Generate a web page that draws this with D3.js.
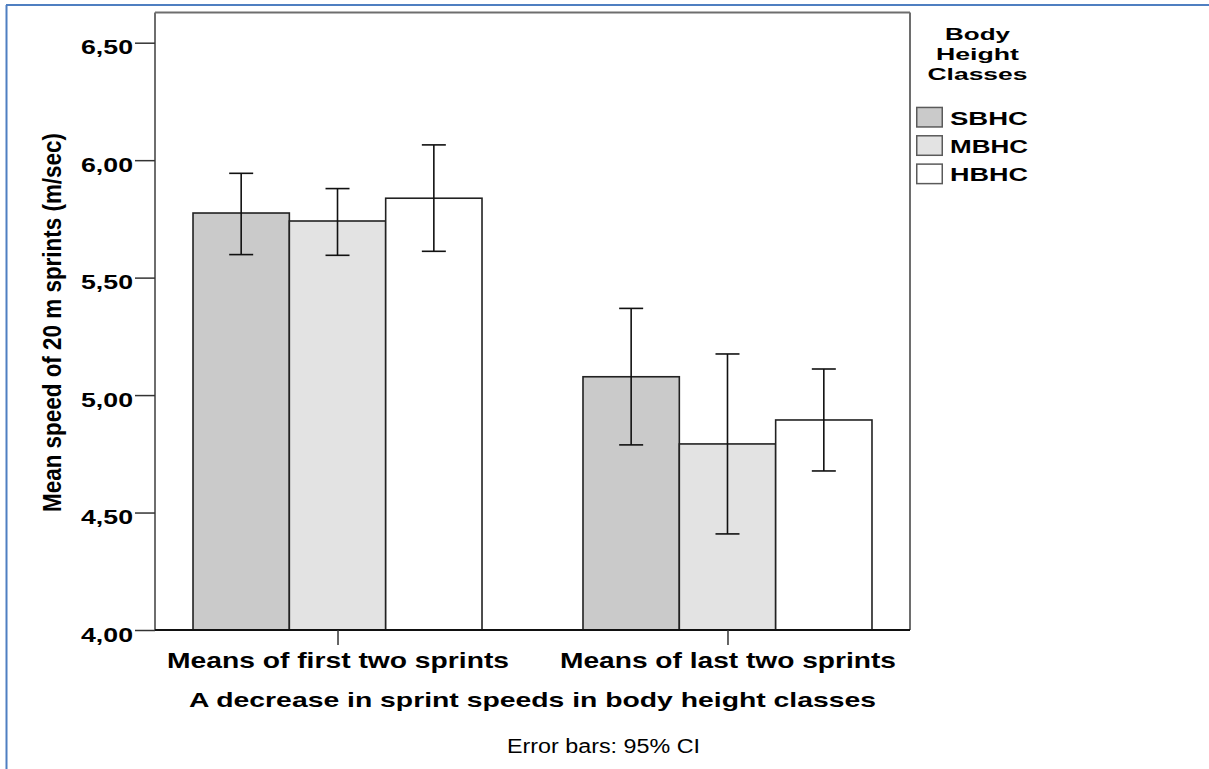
<!DOCTYPE html>
<html>
<head>
<meta charset="utf-8">
<script src="https://cdn.jsdelivr.net/npm/d3@7"></script>
<style>
  body { margin: 0; background: #fff; }
  text { font-family: "Liberation Sans", Arial, sans-serif; fill: #000; }
</style>
</head>
<body>
<div id="chart"></div>
<script>
const groups = ["Means of first two sprints", "Means of last two sprints"];
const classes = ["SBHC", "MBHC", "HBHC"];
const means = [[5.775, 5.741, 5.838], [5.078, 4.792, 4.894]];
const lower = [[5.598, 5.595, 5.612], [4.788, 4.409, 4.677]];
const upper = [[5.944, 5.879, 6.065], [5.369, 5.175, 5.111]];
const yTicks = [4.0, 4.5, 5.0, 5.5, 6.0, 6.5];
const fills = ["#cacaca", "#e3e3e3", "#ffffff"];

const width = 1209, height = 769;
const plot = {left: 155, right: 910, top: 12.5, bottom: 630};

const svg = d3.select("#chart").append("svg")
    .attr("width", width)
    .attr("height", height);

// outer blue border (top and left only)
svg.append("line").attr("x1", 6).attr("x2", width).attr("y1", 5).attr("y2", 5)
    .attr("stroke", "#4f7fc1").attr("stroke-width", 2);
svg.append("line").attr("x1", 6.5).attr("x2", 6.5).attr("y1", 5).attr("y2", height)
    .attr("stroke", "#4f7fc1").attr("stroke-width", 2);

const y = d3.scaleLinear().domain([4, 6.5]).range([plot.bottom, 42.7]);
const x0 = d3.scalePoint().domain(groups).range([plot.left, plot.right]).padding(0.468);
const x1 = d3.scaleBand().domain(classes).range([-144.5, 144.5]);

// frame
svg.append("line").attr("x1", plot.left).attr("x2", plot.right).attr("y1", plot.top).attr("y2", plot.top)
    .attr("stroke", "#6e6e6e").attr("stroke-width", 2);
svg.append("line").attr("x1", plot.right).attr("x2", plot.right).attr("y1", plot.top).attr("y2", plot.bottom)
    .attr("stroke", "#6e6e6e").attr("stroke-width", 2);
svg.append("line").attr("x1", plot.left).attr("x2", plot.left).attr("y1", plot.top).attr("y2", plot.bottom)
    .attr("stroke", "#6e6e6e").attr("stroke-width", 2);

// bars
const rows = [];
groups.forEach((g, i) => classes.forEach((c, j) => {
    rows.push({g: g, c: c, j: j, mean: means[i][j], lo: lower[i][j], hi: upper[i][j]});
}));

const bar = svg.append("g").selectAll("g")
    .data(rows)
    .enter().append("g")
    .attr("transform", d => "translate(" + (x0(d.g) + x1(d.c)) + ",0)");

bar.append("rect")
    .attr("y", d => y(d.mean))
    .attr("width", x1.bandwidth())
    .attr("height", d => y(4) - y(d.mean))
    .attr("fill", d => fills[d.j])
    .attr("stroke", "#222")
    .attr("stroke-width", 1.6);

// error bars
const cx = x1.bandwidth() / 2;
bar.append("line")
    .attr("x1", cx).attr("x2", cx)
    .attr("y1", d => y(d.lo)).attr("y2", d => y(d.hi))
    .attr("stroke", "#111").attr("stroke-width", 1.6);
bar.append("line")
    .attr("x1", cx - 12).attr("x2", cx + 12)
    .attr("y1", d => y(d.hi)).attr("y2", d => y(d.hi))
    .attr("stroke", "#111").attr("stroke-width", 1.6);
bar.append("line")
    .attr("x1", cx - 12).attr("x2", cx + 12)
    .attr("y1", d => y(d.lo)).attr("y2", d => y(d.lo))
    .attr("stroke", "#111").attr("stroke-width", 1.6);

// y axis
const yAxis = svg.append("g")
    .attr("transform", "translate(" + plot.left + ",0)")
    .call(d3.axisLeft(y).tickValues(yTicks).tickSize(20).tickPadding(2)
        .tickFormat(d => d3.format(".2f")(d).replace(".", ",")));
yAxis.select(".domain").remove();
yAxis.selectAll(".tick line").attr("stroke", "#333").attr("stroke-width", 1.5);
yAxis.selectAll(".tick text")
    .attr("font-size", 21).attr("font-weight", "bold")
    .attr("dy", 11).attr("y", 0)
    .attr("textLength", 52).attr("lengthAdjust", "spacingAndGlyphs");

// x axis
const xAxis = svg.append("g")
    .attr("transform", "translate(0," + plot.bottom + ")")
    .call(d3.axisBottom(x0).tickSize(15).tickPadding(8));
xAxis.select(".domain")
    .attr("d", "M" + plot.left + ",0H" + plot.right)
    .attr("stroke", "#111").attr("stroke-width", 2);
xAxis.selectAll(".tick line").attr("stroke", "#333").attr("stroke-width", 1.5);
xAxis.selectAll(".tick text")
    .attr("font-size", 22).attr("font-weight", "bold")
    .attr("y", 38).attr("dy", 0)
    .attr("textLength", (d, i) => i === 0 ? 342 : 336)
    .attr("lengthAdjust", "spacingAndGlyphs");

// axis titles
svg.append("text")
    .attr("x", 532.5).attr("y", 707)
    .attr("text-anchor", "middle")
    .attr("font-size", 21).attr("font-weight", "bold")
    .attr("textLength", 687).attr("lengthAdjust", "spacingAndGlyphs")
    .text("A decrease in sprint speeds in body height classes");

svg.append("text")
    .attr("transform", "translate(61,322.5) scale(1.3,1) rotate(-90)")
    .attr("text-anchor", "middle")
    .attr("font-size", 20).attr("font-weight", "bold")
    .attr("textLength", 379).attr("lengthAdjust", "spacingAndGlyphs")
    .text("Mean speed of 20 m sprints (m/sec)");

svg.append("text")
    .attr("x", 603.5).attr("y", 753)
    .attr("text-anchor", "middle")
    .attr("font-size", 20)
    .attr("textLength", 193).attr("lengthAdjust", "spacingAndGlyphs")
    .text("Error bars: 95% CI");

// legend
const legendTitle = ["Body", "Height", "Classes"];
const titleWidths = [65, 83, 100];
svg.append("g").selectAll("text")
    .data(legendTitle)
    .enter().append("text")
    .attr("x", 977.5)
    .attr("y", (d, i) => 40 + i * 20)
    .attr("text-anchor", "middle")
    .attr("font-size", 17).attr("font-weight", "bold")
    .attr("textLength", (d, i) => titleWidths[i]).attr("lengthAdjust", "spacingAndGlyphs")
    .text(d => d);

const ly = d3.scaleBand().domain(classes).range([106.7, 191.7]);
const item = svg.append("g").selectAll("g")
    .data(classes)
    .enter().append("g")
    .attr("transform", d => "translate(916," + ly(d) + ")");
item.append("rect")
    .attr("x", 0.75).attr("y", 0.75)
    .attr("width", 25.5).attr("height", 19.5)
    .attr("fill", (d, i) => fills[i])
    .attr("stroke", "#5a5a5a").attr("stroke-width", 1.5);
item.append("text")
    .attr("x", 34).attr("y", 18)
    .attr("font-size", 18).attr("font-weight", "bold")
    .attr("textLength", 78).attr("lengthAdjust", "spacingAndGlyphs")
    .text(d => d);
</script>
</body>
</html>
